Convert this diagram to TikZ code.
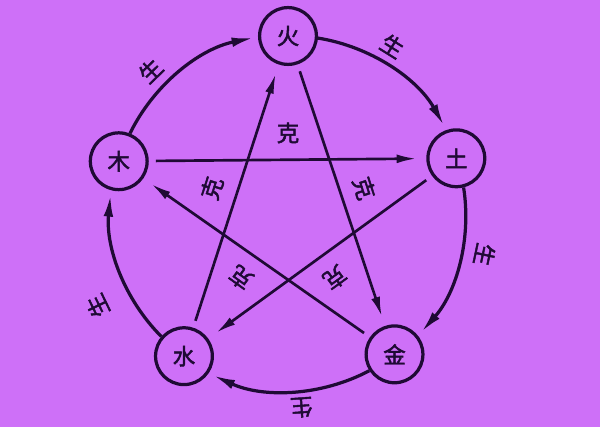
\documentclass[tikz,border=0pt]{standalone}
\usepackage{fontspec}
\newfontfamily\cjk{Noto Sans CJK SC}[FakeBold=2]
\usetikzlibrary{arrows.meta}
\definecolor{lilac}{HTML}{CE70F8}
\definecolor{ink}{HTML}{1F0A35}
\tikzset{
  elem/.style={draw=ink,circle,line width=2.3pt,minimum size=1.42cm,inner sep=0pt,
    font=\cjk\fontsize{16}{16}\selectfont,text=ink},
  sheng/.style={-{Latex[length=5.5mm,width=2.4mm]},line width=2.3pt,ink},
  ke/.style={-{Latex[length=5mm,width=2.2mm]},line width=1.9pt,ink,
    shorten <=0.18cm,shorten >=0.24cm},
  lbl/.style={font=\cjk\fontsize{16}{16}\selectfont,text=ink,inner sep=0pt}
}
\begin{document}
\begin{tikzpicture}[x=0.025cm,y=0.025cm]
  \fill[lilac] (0,0) rectangle (600,427);

  % the five elements, on a circle of radius 177
  \node[elem] (huo)  at ([shift={(288,214)}]90:177) {火};
  \node[elem] (tu)   at ([shift={(288,214)}]18:177) {土};
  \node[elem] (jin)  at ([shift={(288,214)}]-53:177) {金};
  \node[elem] (shui) at ([shift={(288,214)}]-126:177) {水};
  \node[elem] (mu)   at ([shift={(288,214)}]163:177) {木};

  % generating cycle
  \draw[sheng] (mu.68.5) arc[start angle=153.9,end angle=101.5,radius=177];
  \draw[sheng] (huo.-4.5) arc[start angle=80.9,end angle=29.5,radius=177];
  \draw[sheng] (tu.-76.5) arc[start angle=8.9,end angle=-41.5,radius=177];
  \draw[sheng] (jin.-147.5) arc[start angle=-62.1,end angle=-114.5,radius=177];
  \draw[sheng] (shui.139.5) arc[start angle=-135.1,end angle=-185.5,radius=177];

  % overcoming star
  \draw[ke] (mu) -- (tu);
  \draw[ke] (tu) -- (shui);
  \draw[ke] (shui) -- (huo);
  \draw[ke] (huo) -- (jin);
  \draw[ke] (jin) -- (mu);

  \node[lbl,rotate=44]   (sheng1) at ([shift={(288,214)}]134:198) {生};
  \node[lbl,rotate=-32]  (sheng2) at ([shift={(288,214)}]58:197) {生};
  \node[lbl,rotate=-102] (sheng3) at ([shift={(288,214)}]-12:201) {生};
  \node[lbl,rotate=-176] (sheng4) at ([shift={(288,214)}]-86:195) {生};
  \node[lbl,rotate=116]  (sheng5) at ([shift={(288,214)}]-154:212) {生};

  \node[lbl]             (ke1) at ([shift={(288,214)}]90:80) {克};
  \node[lbl,rotate=-72]  (ke2) at ([shift={(288,214)}]18:80) {克};
  \node[lbl,rotate=-144] (ke3) at ([shift={(288,214)}]-54:80) {克};
  \node[lbl,rotate=144]  (ke4) at ([shift={(288,214)}]-126:80) {克};
  \node[lbl,rotate=72]   (ke5) at ([shift={(288,214)}]162:80) {克};
\end{tikzpicture}
\end{document}
